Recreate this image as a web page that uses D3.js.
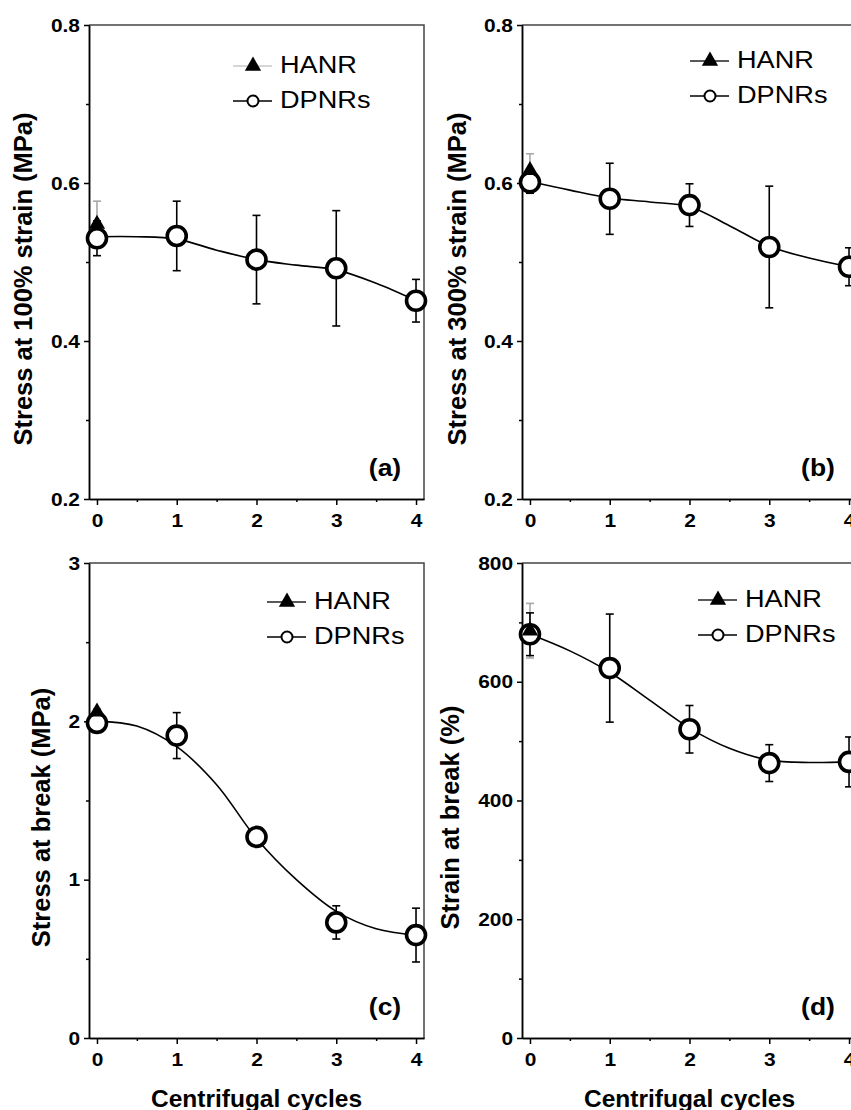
<!DOCTYPE html>
<html>
<head>
<meta charset="utf-8">
<script src="https://cdn.jsdelivr.net/npm/d3@7/dist/d3.min.js"></script>
<style>
  html, body { margin: 0; padding: 0; background: #fff; }
  svg { display: block; font-family: "Liberation Sans", Arial, sans-serif; }
</style>
</head>
<body>
<svg id="chart" width="851" height="1110"></svg>
<script>
// x categories and fitted-curve sample points
const cycles = [0, 1, 2, 3, 4];
const fitCycles = [0, 0.5, 1, 1.5, 2, 2.5, 3, 3.5, 4];
const legendLabels = ['HANR', 'DPNRs'];
const panelTags = ['(a)', '(b)', '(c)', '(d)'];
const xTitle = 'Centrifugal cycles';
const yTitles = ['Stress at 100% strain (MPa)', 'Stress at 300% strain (MPa)',
                 'Stress at break (MPa)', 'Strain at break (%)'];

// (a) stress at 100% strain
const s100Dpnr = [0.530, 0.533, 0.503, 0.492, 0.451];
const s100DpnrErr = [0.022, 0.044, 0.056, 0.073, 0.027];
const s100Hanr = [0.548];
const s100HanrErr = [0.029];
const s100Fit = [0.532, 0.532, 0.529, 0.515, 0.503, 0.496, 0.490, 0.473, 0.451];

// (b) stress at 300% strain
const s300Dpnr = [0.601, 0.580, 0.572, 0.519, 0.494];
const s300DpnrErr = [0.014, 0.045, 0.027, 0.077, 0.024];
const s300Hanr = [0.616];
const s300HanrErr = [0.021];
const s300Fit = [0.602, 0.591, 0.581, 0.576, 0.570, 0.546, 0.520, 0.505, 0.494];

// (c) stress at break
const sBreakDpnr = [1.99, 1.91, 1.27, 0.73, 0.65];
const sBreakDpnrErr = [0.02, 0.145, 0.04, 0.105, 0.17];
const sBreakHanr = [2.06];
const sBreakHanrErr = [0.02];
const sBreakFit = [2.00, 1.97, 1.84, 1.60, 1.26, 1.00, 0.80, 0.69, 0.65];

// (d) strain at break
const eBreakDpnr = [680, 623, 520, 463, 465];
const eBreakDpnrErr = [36, 91, 40, 31, 42];
const eBreakHanr = [686];
const eBreakHanrErr = [46];
const eBreakFit = [680, 652, 616, 569, 522, 488, 468, 464, 465];

// y axis ticks
const yTicksA = [0.2, 0.4, 0.6, 0.8], yMinorA = [0.3, 0.5, 0.7];
const yTicksC = [0, 1, 2, 3], yMinorC = [0.5, 1.5, 2.5];
const yTicksD = [0, 200, 400, 600, 800], yMinorD = [100, 300, 500, 700];
const xMinor = [0.5, 1.5, 2.5, 3.5];

const panels = [
  { dpnr: s100Dpnr, err: s100DpnrErr, hanr: s100Hanr, hanrErr: s100HanrErr, fit: s100Fit,
    yDomain: [0.2, 0.8], yTicks: yTicksA, yMinor: yMinorA, fmt: d3.format('.1f') },
  { dpnr: s300Dpnr, err: s300DpnrErr, hanr: s300Hanr, hanrErr: s300HanrErr, fit: s300Fit,
    yDomain: [0.2, 0.8], yTicks: yTicksA, yMinor: yMinorA, fmt: d3.format('.1f') },
  { dpnr: sBreakDpnr, err: sBreakDpnrErr, hanr: sBreakHanr, hanrErr: sBreakHanrErr, fit: sBreakFit,
    yDomain: [0, 3], yTicks: yTicksC, yMinor: yMinorC, fmt: d3.format('d') },
  { dpnr: eBreakDpnr, err: eBreakDpnrErr, hanr: eBreakHanr, hanrErr: eBreakHanrErr, fit: eBreakFit,
    yDomain: [0, 800], yTicks: yTicksD, yMinor: yMinorD, fmt: d3.format('d') }
];

// where each panel sits on the page
const layout = [
  { left: 89,  top: 25,  bottom: 499,  titleDx: -66, legend: [144, 41], hanrLine: '#c8c8c8' },
  { left: 522, top: 25,  bottom: 499,  titleDx: -65, legend: [168, 36], hanrLine: '#222' },
  { left: 89,  top: 563, bottom: 1038, titleDx: -48, legend: [178, 39], hanrLine: '#222' },
  { left: 522, top: 563, bottom: 1038, titleDx: -72, legend: [176, 37], hanrLine: '#222' }
];
const plotW = 335;

const svg = d3.select('#chart');

// widen text a bit, the original figure is horizontally stretched
function stretch(sel, k) {
  sel.each(function() {
    const len = this.getComputedTextLength();
    d3.select(this).attr('textLength', len * k).attr('lengthAdjust', 'spacingAndGlyphs');
  });
}

const tri = d3.symbol(d3.symbolTriangle, 115);

panels.forEach(function(p, i) {
  const L = layout[i];
  const g = svg.append('g');
  const x = d3.scaleLinear().domain([-0.1, 4.1]).range([L.left, L.left + plotW]);
  const y = d3.scaleLinear().domain(p.yDomain).range([L.bottom, L.top]);

  // frame (top + right)
  g.append('path')
    .attr('d', `M${L.left},${L.top}H${L.left + plotW}V${L.bottom}`)
    .attr('fill', 'none').attr('stroke', '#444').attr('stroke-width', 1.5);

  // x axis
  g.append('g').attr('transform', `translate(0,${L.bottom})`)
    .call(d3.axisBottom(x).tickValues(xMinor).tickSize(3).tickSizeOuter(0).tickFormat(''));
  const xa = g.append('g').attr('transform', `translate(0,${L.bottom})`)
    .call(d3.axisBottom(x).tickValues(cycles).tickSize(6).tickSizeOuter(0).tickPadding(9).tickFormat(d3.format('d')));
  xa.selectAll('text').attr('font-size', 19).attr('font-weight', 'bold').attr('fill', '#000');
  stretch(xa.selectAll('text'), 1.1);

  // y axis
  g.append('g').attr('transform', `translate(${L.left},0)`)
    .call(d3.axisLeft(y).tickValues(p.yMinor).tickSize(3).tickSizeOuter(0).tickFormat(''));
  const ya = g.append('g').attr('transform', `translate(${L.left},0)`)
    .call(d3.axisLeft(y).tickValues(p.yTicks).tickSize(5).tickSizeOuter(0).tickPadding(4).tickFormat(p.fmt));
  ya.selectAll('text').attr('font-size', 19).attr('font-weight', 'bold').attr('fill', '#000');
  stretch(ya.selectAll('text'), 1.1);

  g.selectAll('.domain').attr('stroke', '#000').attr('stroke-width', 1.5);
  g.selectAll('.tick line').attr('stroke', '#000').attr('stroke-width', 1.5);

  // axis titles
  g.append('text')
    .attr('transform', `translate(${L.left + L.titleDx},${(L.top + L.bottom) / 2 + 17}) rotate(-90)`)
    .attr('text-anchor', 'middle').attr('dy', '0.36em')
    .attr('font-size', 25.5).attr('font-weight', 'bold')
    .text(yTitles[i]);
  if (i >= 2) {
    g.append('text')
      .attr('x', x(2)).attr('y', 1107)
      .attr('text-anchor', 'middle')
      .attr('font-size', 24.5).attr('font-weight', 'bold')
      .text(xTitle);
  }

  // fitted curve
  const line = d3.line().x(d => x(d[0])).y(d => y(d[1])).curve(d3.curveCatmullRom.alpha(0.5));
  g.append('path')
    .datum(fitCycles.map((c, j) => [c, p.fit[j]]))
    .attr('d', line).attr('fill', 'none').attr('stroke', '#000').attr('stroke-width', 1.6);

  // error bars
  function errBars(vals, errs, color) {
    const eb = g.append('g').attr('stroke', color).attr('stroke-width', 1.6)
      .selectAll('g').data(vals.map((v, j) => ({ c: cycles[j], v: v, e: errs[j] }))).join('g');
    eb.append('line')
      .attr('x1', d => x(d.c)).attr('x2', d => x(d.c))
      .attr('y1', d => y(d.v - d.e)).attr('y2', d => y(d.v + d.e));
    [-1, 1].forEach(function(s) {
      eb.append('line')
        .attr('x1', d => x(d.c) - 4).attr('x2', d => x(d.c) + 4)
        .attr('y1', d => y(d.v + s * d.e)).attr('y2', d => y(d.v + s * d.e));
    });
  }
  errBars(p.hanr, p.hanrErr, '#a8a8a8');
  errBars(p.dpnr, p.err, '#000');

  // markers
  g.append('g').selectAll('circle')
    .data(p.dpnr.map((v, j) => ({ c: cycles[j], v: v })))
    .join('circle')
    .attr('cx', d => x(d.c)).attr('cy', d => y(d.v)).attr('r', 9.5)
    .attr('fill', '#fff').attr('stroke', '#000').attr('stroke-width', 3.6);
  g.append('g').selectAll('path')
    .data(p.hanr.map((v, j) => ({ c: cycles[j], v: v })))
    .join('path')
    .attr('d', tri)
    .attr('transform', d => `translate(${x(d.c)},${y(d.v)})`)
    .attr('fill', '#000');

  // legend
  const lx = L.left + L.legend[0], ly = L.top + L.legend[1];
  const lg = g.append('g');
  lg.append('line').attr('x1', lx).attr('x2', lx + 39).attr('y1', ly).attr('y2', ly)
    .attr('stroke', L.hanrLine).attr('stroke-width', 1.3);
  lg.append('path').attr('d', tri).attr('transform', `translate(${lx + 20},${ly})`).attr('fill', '#000');
  lg.append('line').attr('x1', lx).attr('x2', lx + 39).attr('y1', ly + 35).attr('y2', ly + 35)
    .attr('stroke', '#000').attr('stroke-width', 1.6);
  lg.append('circle').attr('cx', lx + 20).attr('cy', ly + 35).attr('r', 5.5)
    .attr('fill', '#fff').attr('stroke', '#000').attr('stroke-width', 2);
  const lt = lg.selectAll('text').data(legendLabels).join('text')
    .attr('x', lx + 47).attr('y', (d, j) => ly + 7 + j * 35)
    .attr('font-size', 23)
    .text(d => d);
  stretch(lt, 1.18);

  // panel tag
  const tag = g.append('text')
    .attr('x', L.left + 296).attr('y', L.bottom - 23)
    .attr('text-anchor', 'middle')
    .attr('font-size', 23).attr('font-weight', 'bold')
    .text(panelTags[i]);
  stretch(tag, 1.15);
});
</script>
</body>
</html>
